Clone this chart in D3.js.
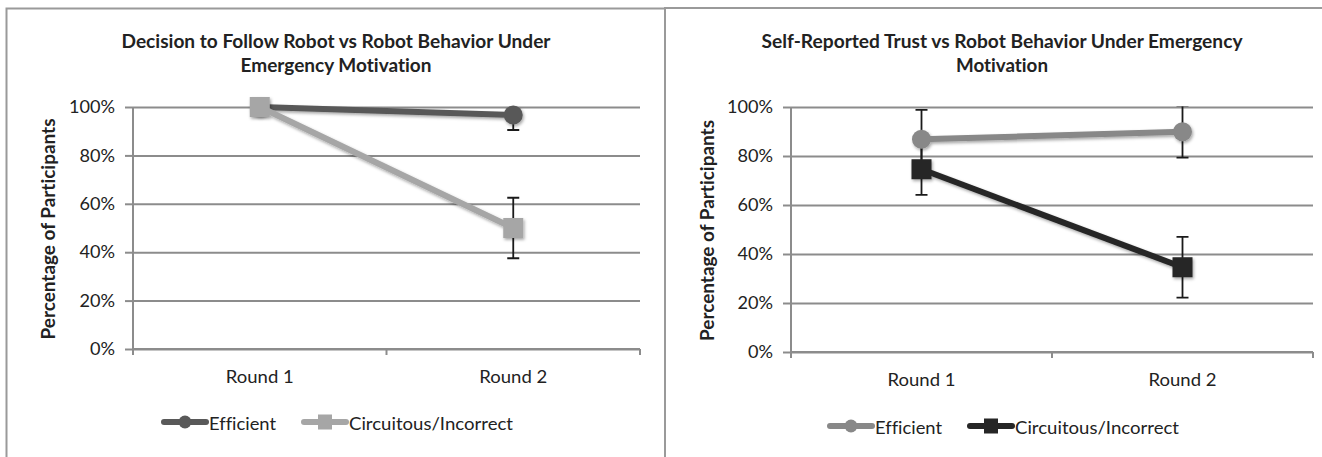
<!DOCTYPE html>
<html>
<head>
<meta charset="utf-8">
<script src="https://cdn.jsdelivr.net/npm/d3@7"></script>
<style>
  html, body { margin: 0; padding: 0; background: #fff; }
  svg { display: block; }
  text { font-family: Lato, "Open Sans", sans-serif; fill: #222; font-variant-ligatures: none; }
</style>
</head>
<body>
<svg id="chart" width="1322" height="457"></svg>
<script>
// Categories and axis ticks
const rounds = ["Round 1", "Round 2"];
const yTicks = [0, 20, 40, 60, 80, 100];
const seriesNames = ["Efficient", "Circuitous/Incorrect"];

// Decision to follow the robot (% of participants) with error margins
const followEfficient = [100, 96.7];
const followEfficientErr = [0, 6.2];
const followCircuitous = [100, 50];
const followCircuitousErr = [0, 12.5];

// Self-reported trust (% of participants) with error margins
const trustEfficient = [86.8, 89.9];
const trustEfficientErr = [12, 10.6];
const trustCircuitous = [74.6, 34.6];
const trustCircuitousErr = [10.5, 12.4];

const titles = [
  ["Decision to Follow Robot vs Robot Behavior Under", "Emergency Motivation"],
  ["Self-Reported Trust vs Robot Behavior Under Emergency", "Motivation"]
];
const yTitle = "Percentage of Participants";

const svg = d3.select("#chart");

// soft drop shadow used on lines and markers
const defs = svg.append("defs");
const shadow = defs.append("filter").attr("id", "shadow")
  .attr("x", "-50%").attr("y", "-50%").attr("width", "200%").attr("height", "200%");
shadow.append("feDropShadow").attr("dx", 1.2).attr("dy", 1.8)
  .attr("stdDeviation", 1.6).attr("flood-color", "#000").attr("flood-opacity", 0.35);

// stretch a text element horizontally to a given width
function fit(sel, w) {
  sel.attr("textLength", w).attr("lengthAdjust", "spacingAndGlyphs");
}

// panel frames
const frame = svg.append("g").attr("fill", "none").attr("stroke", "#9a9a9a").attr("stroke-width", 2);
frame.append("path").attr("d", "M6.5,457 V8.5 H665");
frame.append("path").attr("d", "M665,457 V8 H1322");

const panels = [
  {
    x0: 133, x1: 640, yTop: 107, yBot: 349, cx: 336,
    title: titles[0], titleW: [429, 191],
    yTitleX: 55, yTitleLen: 221,
    series: [
      { name: seriesNames[0], values: followEfficient, err: followEfficientErr, color: "#595959", shape: "circle" },
      { name: seriesNames[1], values: followCircuitous, err: followCircuitousErr, color: "#a6a6a6", shape: "square" }
    ],
    legendX: 162, legendY: 422
  },
  {
    x0: 791, x1: 1313, yTop: 107, yBot: 352, cx: 1002,
    title: titles[1], titleW: [481, 92],
    yTitleX: 714, yTitleLen: 221,
    series: [
      { name: seriesNames[0], values: trustEfficient, err: trustEfficientErr, color: "#888888", shape: "circle" },
      { name: seriesNames[1], values: trustCircuitous, err: trustCircuitousErr, color: "#262626", shape: "square" }
    ],
    legendX: 828, legendY: 426
  }
];

const gridColor = "#8c8c8c";

panels.forEach((p, pi) => {
  const g = svg.append("g");
  const x = d3.scaleBand().domain(rounds).range([p.x0, p.x1]);
  const cxOf = d => x(d) + x.bandwidth() / 2;
  const y = d3.scaleLinear().domain([0, 100]).range([p.yBot, p.yTop]);

  // title
  p.title.forEach((line, i) => {
    g.append("text").attr("x", p.cx).attr("y", 48 + i * 24)
      .attr("text-anchor", "middle").attr("font-weight", "bold").attr("font-size", 18)
      .text(line).call(fit, p.titleW[i]);
  });

  // horizontal gridlines
  const grid = g.append("g").attr("transform", `translate(${p.x0},0)`)
    .call(d3.axisLeft(y).tickValues(yTicks).tickSize(-(p.x1 - p.x0)).tickFormat(""));
  grid.select(".domain").remove();
  grid.selectAll("line").attr("stroke", gridColor).attr("stroke-width", 2);

  // y axis with outside ticks
  const ya = g.append("g").attr("transform", `translate(${p.x0},0)`)
    .call(d3.axisLeft(y).tickValues(yTicks).tickSize(8).tickPadding(10).tickFormat(d => d + "%"));
  ya.select(".domain").attr("stroke", gridColor).attr("stroke-width", 2)
    .attr("d", `M0,${p.yBot}V${p.yTop}`);
  ya.selectAll("line").attr("stroke", gridColor).attr("stroke-width", 2);
  const tickTexts = ya.selectAll("text").attr("font-size", 17.5).attr("fill", "#222")
    .attr("font-family", "Lato, sans-serif");
  const ref = tickTexts.filter(d => d === 100).node().getComputedTextLength();
  const kx = 46 / ref;
  tickTexts.each(function () {
    const t = d3.select(this);
    fit(t, this.getComputedTextLength() * kx);
  });

  // x axis: line with ticks on category boundaries
  const xa = g.append("g").attr("transform", `translate(0,${p.yBot})`)
    .call(d3.axisBottom(x).tickSize(0).tickPadding(22));
  xa.select(".domain").attr("stroke", gridColor).attr("stroke-width", 2)
    .attr("d", `M${p.x0},0H${p.x1}`);
  xa.selectAll("text").attr("font-size", 17.5).attr("fill", "#222")
    .attr("font-family", "Lato, sans-serif").call(fit, 68);
  const bounds = rounds.map(r => x(r)).concat([p.x1]);
  xa.selectAll(".bound").data(bounds).join("line").attr("class", "bound")
    .attr("x1", d => d).attr("x2", d => d).attr("y1", 0).attr("y2", 6)
    .attr("stroke", gridColor).attr("stroke-width", 2);

  // y axis title
  g.append("text")
    .attr("transform", `translate(${p.yTitleX},${(p.yTop + p.yBot) / 2 + 1}) rotate(-90)`)
    .attr("text-anchor", "middle").attr("font-weight", "bold").attr("font-size", 19)
    .text(yTitle).call(fit, p.yTitleLen);

  // error bars, clipped to the plotting range
  const clipId = "clip" + pi;
  defs.append("clipPath").attr("id", clipId).append("rect")
    .attr("x", p.x0 - 20).attr("y", p.yTop - 0.5)
    .attr("width", p.x1 - p.x0 + 40).attr("height", p.yBot - p.yTop + 1);
  const eb = g.append("g").attr("clip-path", `url(#${clipId})`)
    .attr("stroke", "#1a1a1a").attr("stroke-width", 1.8);
  p.series.forEach(s => {
    rounds.forEach((r, i) => {
      if (!s.err[i]) return;
      const cx = cxOf(r);
      const lo = y(s.values[i] - s.err[i]), hi = y(s.values[i] + s.err[i]);
      eb.append("line").attr("x1", cx).attr("x2", cx).attr("y1", lo).attr("y2", hi);
      eb.append("line").attr("x1", cx - 6).attr("x2", cx + 6).attr("y1", lo).attr("y2", lo);
      eb.append("line").attr("x1", cx - 6).attr("x2", cx + 6).attr("y1", hi).attr("y2", hi);
    });
  });

  // series lines and markers
  const line = d3.line().x((d, i) => cxOf(rounds[i])).y(d => y(d));
  p.series.forEach(s => {
    const sg = g.append("g").attr("filter", "url(#shadow)");
    sg.append("path").datum(s.values).attr("d", line)
      .attr("fill", "none").attr("stroke", s.color).attr("stroke-width", 6)
      .attr("stroke-linecap", "round");
    s.values.forEach((v, i) => {
      const cx = cxOf(rounds[i]), cy = y(v);
      if (s.shape === "circle") {
        sg.append("circle").attr("cx", cx).attr("cy", cy).attr("r", 9.5).attr("fill", s.color);
      } else {
        sg.append("rect").attr("x", cx - 10).attr("y", cy - 10)
          .attr("width", 20).attr("height", 20).attr("fill", s.color);
      }
    });
  });

  // legend
  let lx = p.legendX;
  const legendW = [67, 164];
  p.series.forEach((s, i) => {
    const lg = g.append("g");
    lg.append("line").attr("x1", lx + 2).attr("x2", lx + 44)
      .attr("y1", p.legendY).attr("y2", p.legendY)
      .attr("stroke", s.color).attr("stroke-width", 6).attr("stroke-linecap", "round");
    const mx = lx + 23;
    if (s.shape === "circle") {
      lg.append("circle").attr("cx", mx).attr("cy", p.legendY).attr("r", 6.5).attr("fill", s.color);
    } else {
      lg.append("rect").attr("x", mx - 7).attr("y", p.legendY - 7.5)
        .attr("width", 14).attr("height", 15).attr("fill", s.color);
    }
    lg.append("text").attr("x", lx + 47).attr("y", p.legendY + 8)
      .attr("font-size", 17.5).text(s.name).call(fit, legendW[i]);
    lx = lx + 47 + legendW[i] + 26;
  });
});
</script>
</body>
</html>
